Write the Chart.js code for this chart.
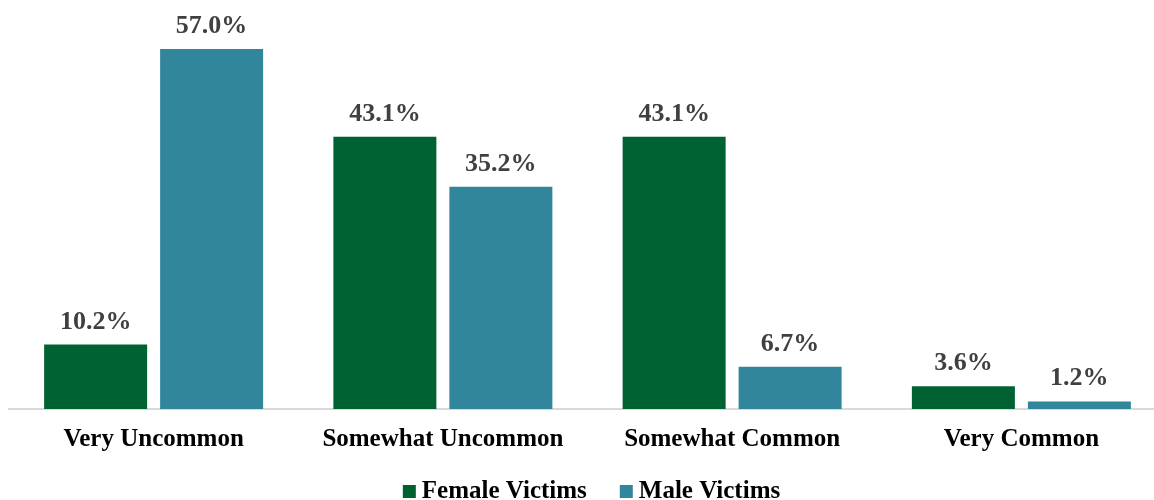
<!DOCTYPE html>
<html>
<head>
<meta charset="utf-8">
<script src="https://cdn.jsdelivr.net/npm/chart.js@4/dist/chart.umd.min.js"></script>
<style>
  html, body { margin: 0; padding: 0; background: #fff; overflow: hidden; }
  #wrap { width: 1166px; height: 500px; position: relative; }
</style>
</head>
<body>
<div id="wrap"><canvas id="victimChart"></canvas></div>
<script>
// Categorías y porcentajes por grupo
const categories = ['Very Uncommon', 'Somewhat Uncommon', 'Somewhat Common', 'Very Common'];
const femaleVictims = [10.2, 43.1, 43.1, 3.6];
const maleVictims = [57.0, 35.2, 6.7, 1.2];

const FONT = "'Liberation Serif', 'DejaVu Serif', serif";

// Etiquetas de valor encima de cada barra
const valueLabels = {
  id: 'valueLabels',
  afterDatasetsDraw(chart) {
    const { ctx } = chart;
    ctx.save();
    ctx.font = 'bold 26px ' + FONT;
    ctx.fillStyle = '#404040';
    ctx.textAlign = 'center';
    ctx.textBaseline = 'alphabetic';
    chart.data.datasets.forEach((ds, i) => {
      chart.getDatasetMeta(i).data.forEach((bar, j) => {
        ctx.fillText(ds.data[j].toFixed(1) + '%', bar.x, bar.y - 16);
      });
    });
    ctx.restore();
  }
};

// Leyenda propia: cuadro pegado al texto, centrada bajo el gráfico
const bottomLegend = {
  id: 'bottomLegend',
  afterDraw(chart) {
    const { ctx, chartArea } = chart;
    const box = 13, gap = 6, spacing = 33, baseline = 498, shift = 4;
    ctx.save();
    ctx.font = 'bold 25px ' + FONT;
    ctx.textBaseline = 'alphabetic';
    ctx.textAlign = 'left';
    const items = chart.data.datasets.map(ds => ({
      text: ds.label,
      color: ds.backgroundColor,
      w: ctx.measureText(ds.label).width
    }));
    const total = items.reduce((s, it) => s + box + gap + it.w, 0) + spacing * (items.length - 1);
    let x = (chartArea.left + chartArea.right) / 2 - total / 2 + shift;
    items.forEach(it => {
      ctx.fillStyle = it.color;
      ctx.fillRect(x, baseline - box, box, box);
      x += box + gap;
      ctx.fillStyle = '#000';
      ctx.fillText(it.text, x, baseline);
      x += it.w + spacing;
    });
    ctx.restore();
  }
};

const ctx = document.getElementById('victimChart').getContext('2d');
new Chart(ctx, {
  type: 'bar',
  data: {
    labels: categories,
    datasets: [
      {
        label: 'Female Victims',
        data: femaleVictims,
        backgroundColor: '#006233',
        categoryPercentage: 0.802,
        barPercentage: 0.888
      },
      {
        label: 'Male Victims',
        data: maleVictims,
        backgroundColor: '#31869b',
        categoryPercentage: 0.802,
        barPercentage: 0.888
      }
    ]
  },
  options: {
    responsive: true,
    maintainAspectRatio: false,
    animation: false,
    layout: { padding: { left: 9, right: 0, top: 30, bottom: 29 } },
    scales: {
      x: {
        grid: { display: false, drawTicks: false },
        border: { color: '#d9d9d9', width: 2 },
        ticks: {
          color: '#000',
          padding: 16,
          font: { family: FONT, weight: 'bold', size: 25 }
        }
      },
      y: {
        display: false,
        min: 0,
        max: 60
      }
    },
    plugins: {
      legend: { display: false },
      tooltip: { enabled: false }
    }
  },
  plugins: [valueLabels, bottomLegend]
});
</script>
</body>
</html>
